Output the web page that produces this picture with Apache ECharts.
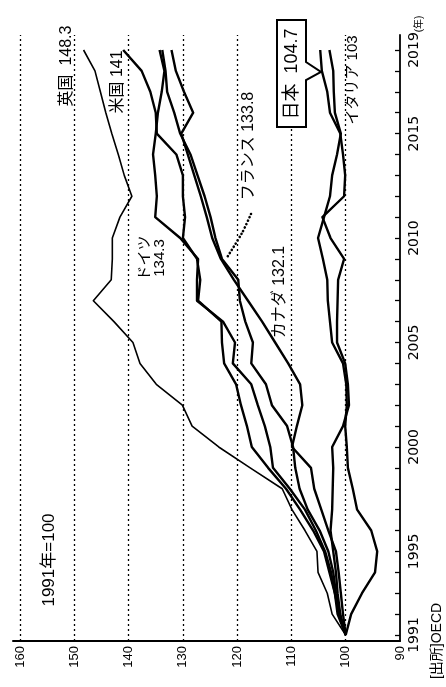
<!DOCTYPE html>
<html><head><meta charset="utf-8">
<script src="https://cdn.jsdelivr.net/npm/echarts@6/dist/echarts.min.js"></script>
<style>html,body{margin:0;padding:0;background:#fff}#c{width:446px;height:687px}</style>
</head><body><div id="c"></div>
<script>
const years = [1991,1992,1993,1994,1995,1996,1997,1998,1999,2000,2001,2002,2003,2004,2005,2006,2007,2008,2009,2010,2011,2012,2013,2014,2015,2016,2017,2018,2019];
const yearLabels = [1991,1995,2000,2005,2010,2015,2019];
const valueTicks = [90,100,110,120,130,140,150,160];
const gridValues = [100,110,120,130,140,150,160];

const uk = [100,102.5,103.4,105.1,105.3,107.5,109.9,111.7,117.6,123.4,128.3,130.1,134.9,137.9,139.2,142.7,146.5,143.2,143.0,143.0,141.6,139.4,140.8,141.9,143.1,144.2,145.2,146.2,148.3];
const us = [100,101.2,102.0,103.0,104.0,106.0,108.4,111.0,114.3,117.3,118.2,119.3,120.2,122.4,122.8,122.9,127.2,126.8,127.4,130.0,129.6,130.0,130.0,131.2,134.8,135.0,136.0,137.6,141.0];
const de = [100,101.5,102.0,102.7,103.8,105.5,107.5,110.3,113.4,113.9,114.9,116.2,117.4,120.8,120.4,122.6,127.4,127.4,127.2,130.5,135.1,134.8,135.1,135.5,135.0,134.6,133.9,133.4,134.3];
const fr = [100,101.2,101.8,102.3,103.2,104.8,107.0,108.5,109.3,109.7,110.8,113.6,114.7,117.4,117.1,118.5,119.5,119.8,122.8,124.0,124.9,126.0,127.3,128.6,130.5,131.6,132.9,133.2,133.8];
const ca = [100,100.5,100.9,101.3,101.8,103.2,104.5,105.8,106.4,109.9,109.0,108.0,108.4,110.6,113.0,115.4,118.0,120.6,123.0,124.6,125.6,126.7,127.9,129.1,130.3,128.1,129.8,131.3,132.1];
const jp = [100,101.0,101.5,101.8,102.3,102.8,102.5,102.4,102.3,102.5,100.5,99.4,99.6,100.1,101.6,101.6,101.5,101.4,100.3,102.8,104.3,100.3,100.1,100.5,101.0,102.9,103.4,104.4,104.7];
const it = [100,99.0,97.0,94.6,94.2,95.3,97.9,98.7,99.6,99.8,100.1,99.8,99.9,100.5,102.5,102.9,103.3,103.4,104.2,105.1,104.0,102.9,102.5,101.6,100.9,102.0,102.2,102.3,103.0];

const FONT = "'Liberation Sans', 'Noto Sans CJK JP', sans-serif";
const chart = echarts.init(document.getElementById('c'), null, {renderer: 'canvas'});

function mk(name, vals, w) {
  return {
    name, type: 'line', data: vals.map((v, i) => [v, years[i]]),
    symbol: 'none', silent: true, z: 3,
    lineStyle: {color: '#000', width: w, join: 'round'}
  };
}
const series = [
  mk('英国', uk, 1.6), mk('米国', us, 2.4), mk('ドイツ', de, 2.4), mk('フランス', fr, 2.4),
  mk('カナダ', ca, 2.4), mk('日本', jp, 2.4), mk('イタリア', it, 2.4)
];
series[0].markLine = {
  silent: true, symbol: ['none', 'none'], label: {show: false}, z: 1,
  lineStyle: {color: '#000', type: [2, 3], width: 1.3},
  data: gridValues.map(v => ({xAxis: v}))
};

function rtext(x, y, text, size, extra) {
  return Object.assign({
    type: 'text', x, y, rotation: Math.PI / 2, z: 10,
    style: {text, fontSize: size, fontFamily: FONT, fill: '#000', align: 'center', verticalAlign: 'middle'}
  }, extra || {});
}

chart.setOption({
  animation: false,
  grid: {left: 13, right: 46, top: 35, bottom: 46},
  xAxis: {
    type: 'value', inverse: true, min: 90, max: 161.3, position: 'bottom',
    axisLine: {show: true, onZero: false, lineStyle: {color: '#000', width: 2}},
    axisTick: {show: false},
    axisLabel: {customValues: valueTicks, rotate: 90, margin: 5, color: '#000', fontSize: 13, fontFamily: FONT,
      formatter: v => String(v)},
    splitLine: {show: false}
  },
  yAxis: {
    type: 'value', position: 'right', min: 1990.713, max: 2019.718,
    axisLine: {show: true, onZero: false, lineStyle: {color: '#000', width: 1.8}},
    axisTick: {show: true, inside: true, length: 5, customValues: years, lineStyle: {color: '#000', width: 1.3}},
    axisLabel: {customValues: yearLabels, rotate: 90, margin: 7, color: '#000', fontSize: 14, fontFamily: "'DejaVu Sans', sans-serif",
      formatter: v => String(v)},
    splitLine: {show: false}
  },
  series,
  graphic: [
    rtext(67, 66, '英国  148.3', 16),
    rtext(118, 82, '米国 141', 16),
    rtext(249, 146, 'フランス 133.8', 16),
    {type: 'polyline', z: 10, shape: {points: [[251, 214], [242, 233], [226, 259]], smooth: 0.3},
     style: {stroke: '#000', lineWidth: 2.6, lineDash: [0.1, 3.6], lineCap: 'round', fill: null}},
    rtext(152, 258, 'ドイツ\n134.3', 15, {style: {text: 'ドイツ\n134.3', fontSize: 15, lineHeight: 15, fontFamily: FONT, fill: '#000', align: 'center', verticalAlign: 'middle'}}),
    rtext(280, 292, 'カナダ 132.1', 16),
    {type: 'polygon', z: 9, shape: {points: [[277, 20], [306, 20], [306, 62], [321, 72], [306, 80], [306, 127], [277, 127]]},
     style: {fill: '#fff', stroke: '#000', lineWidth: 2}},
    rtext(292, 74, '日本  104.7', 18),
    rtext(353, 80, 'イタリア 103', 15),
    rtext(49, 560, '1991年=100', 17),
    rtext(419, 24, '(年)', 10),
    rtext(437, 641, '[出所]OECD', 14)
  ]
});
</script>
</body></html>
